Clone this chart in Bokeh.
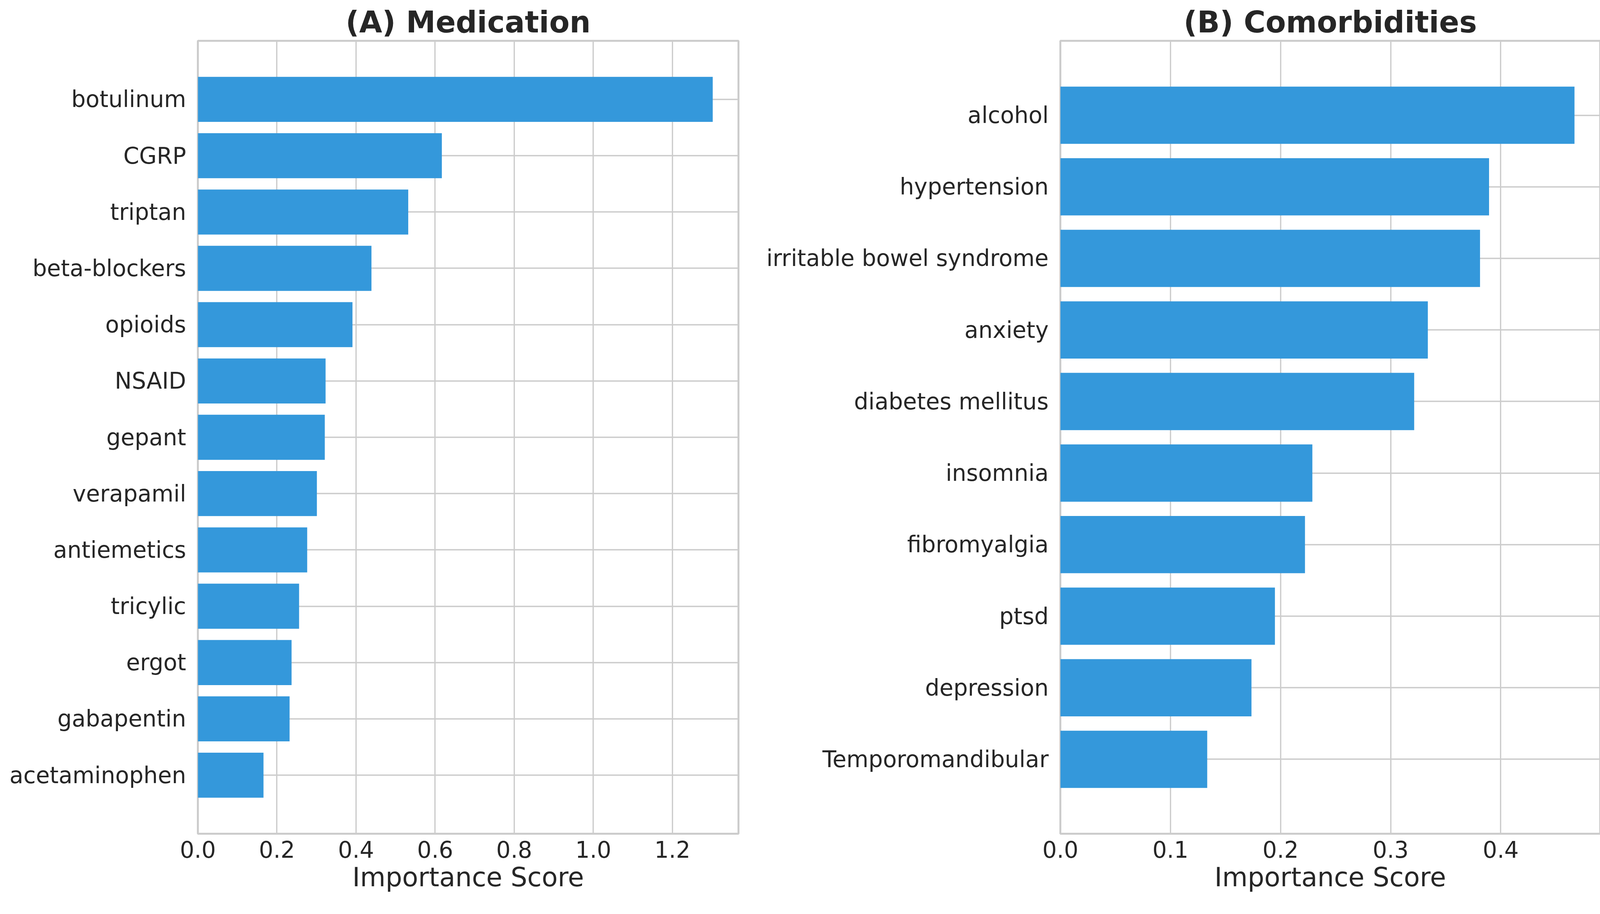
from bokeh.plotting import figure
from bokeh.models import FactorRange, Range1d, FixedTicker, PrintfTickFormatter
from bokeh.layouts import row
from bokeh.embed import file_html
from bokeh.resources import INLINE

# ---- data ----
med_names = ["botulinum", "CGRP", "triptan", "beta-blockers", "opioids", "NSAID",
             "gepant", "verapamil", "antiemetics", "tricylic", "ergot", "gabapentin",
             "acetaminophen"]
med_scores = [1.302, 0.617, 0.532, 0.439, 0.391, 0.323, 0.321, 0.301, 0.2765,
              0.256, 0.237, 0.232, 0.166]
med_ticks = [0.0, 0.2, 0.4, 0.6, 0.8, 1.0, 1.2]

com_names = ["alcohol", "hypertension", "irritable bowel syndrome", "anxiety",
             "diabetes mellitus", "insomnia", "fibromyalgia", "ptsd", "depression",
             "Temporomandibular"]
com_scores = [0.467, 0.3894, 0.3812, 0.3338, 0.3214, 0.2289, 0.2222, 0.1949,
              0.1736, 0.1334]
com_ticks = [0.0, 0.1, 0.2, 0.3, 0.4]

FONT = "DejaVu Sans"
TXT = "#262626"
GRID = "#cccccc"
BAR = "#3498db"


def make_panel(title, names, scores, ticks, width, height, bl, br, bt, bb):
    factors = list(reversed(names))
    p = figure(
        width=width, height=height,
        y_range=FactorRange(factors=factors, range_padding=0.54,
                            range_padding_units="absolute"),
        x_range=Range1d(0, max(scores) * 1.05),
        output_backend="svg", toolbar_location=None,
        min_border_left=bl, min_border_right=br,
        min_border_top=bt, min_border_bottom=bb,
        title=title,
    )
    p.hbar(y=names, right=scores, left=0, height=0.8,
           fill_color=BAR, line_color=None)

    p.title.text_font = FONT
    p.title.text_font_size = "76px"
    p.title.text_font_style = "bold"
    p.title.text_color = TXT
    p.title.align = "center"
    p.title.standoff = 8

    p.outline_line_color = GRID
    p.outline_line_width = 5
    p.background_fill_color = "white"
    p.border_fill_color = "white"

    p.xaxis.ticker = FixedTicker(ticks=ticks)
    p.xgrid.ticker = FixedTicker(ticks=ticks)
    p.xaxis.formatter = PrintfTickFormatter(format="%.1f")

    for ax in (p.xaxis, p.yaxis):
        ax.axis_line_color = None
        ax.major_tick_line_color = None
        ax.minor_tick_line_color = None
        ax.major_tick_out = 0
        ax.major_tick_in = 0
        ax.minor_tick_out = 0
        ax.major_label_text_font = FONT
        ax.major_label_text_font_size = "58px"
        ax.major_label_text_color = TXT

    p.xaxis.major_label_standoff = 18
    p.yaxis.major_label_standoff = 30
    p.xaxis.axis_label = "Importance Score"
    p.xaxis.axis_label_text_font = FONT
    p.xaxis.axis_label_text_font_size = "67px"
    p.xaxis.axis_label_text_font_style = "normal"
    p.xaxis.axis_label_text_color = TXT
    p.xaxis.axis_label_standoff = 8

    p.xgrid.grid_line_color = GRID
    p.xgrid.grid_line_width = 3.3
    p.ygrid.grid_line_color = GRID
    p.ygrid.grid_line_width = 3.3
    return p


pa = make_panel("(A) Medication", med_names, med_scores, med_ticks,
                1893, 2320, 506, 3, 104, 186)
pb = make_panel("(B) Comorbidities", com_names, com_scores, com_ticks,
                2225, 2320, 821, 22, 104, 186)

layout = row(pa, pb)
open("out.html", "w").write(file_html(layout, INLINE))
